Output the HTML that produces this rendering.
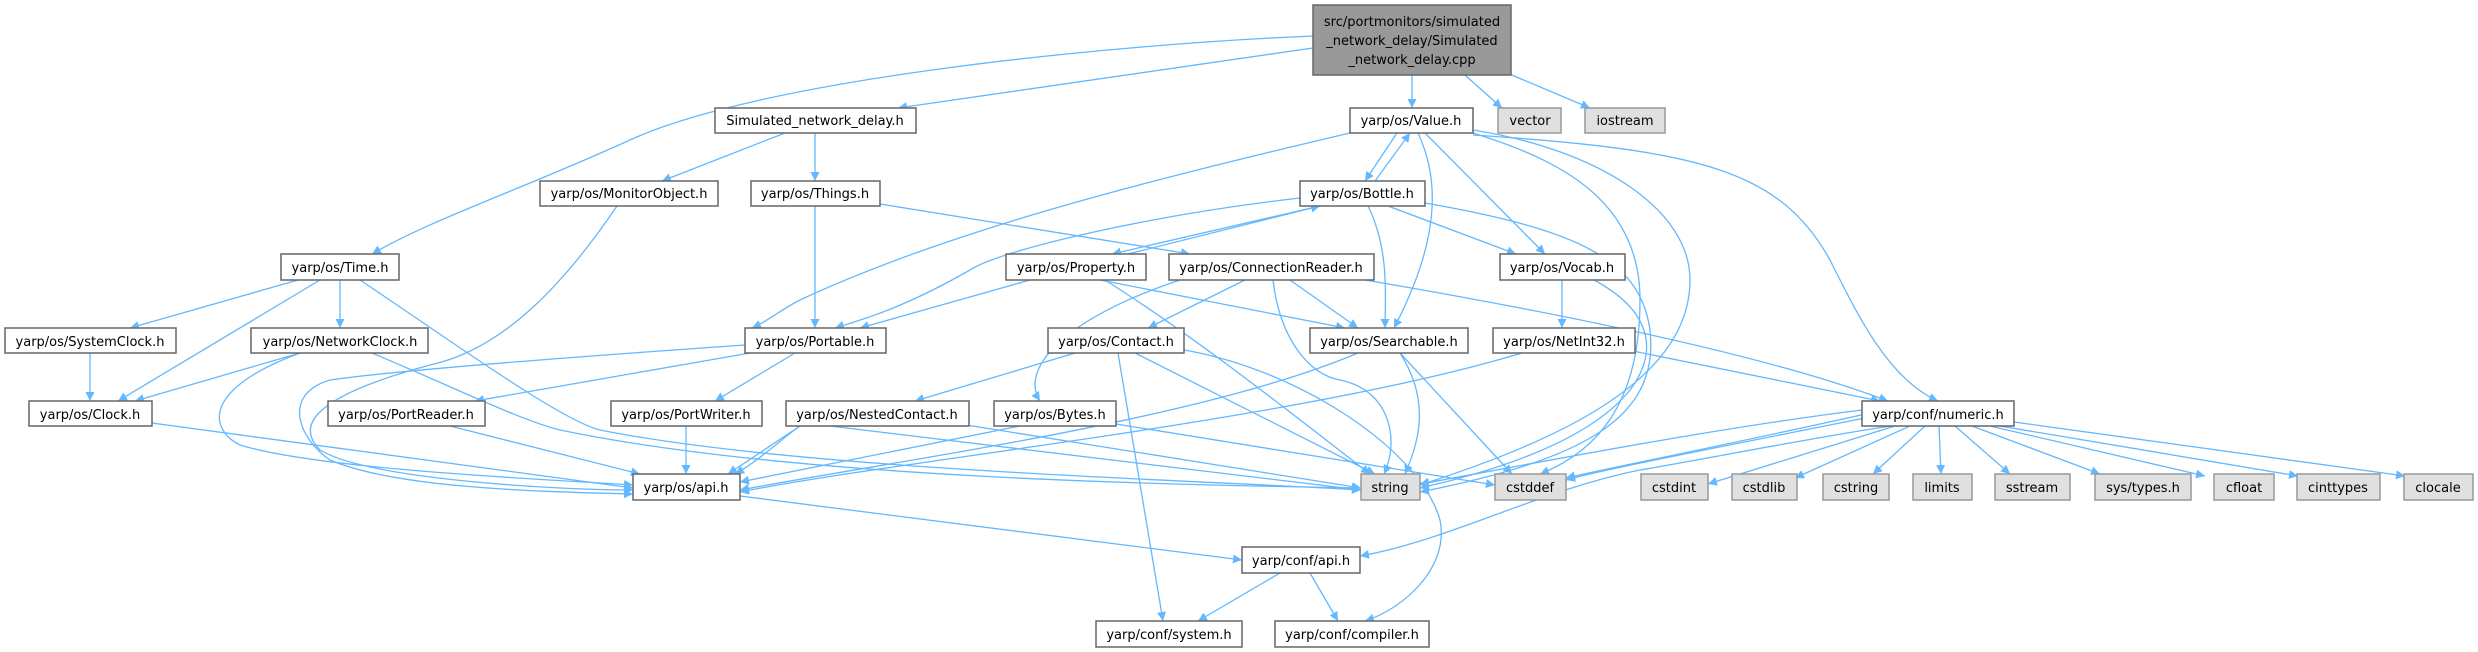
<!DOCTYPE html>
<html><head><meta charset="utf-8"><style>
html,body{margin:0;padding:0;background:#fff;}
svg{display:block;}
text{font-family:"DejaVu Sans","Liberation Sans",sans-serif;font-size:13px;fill:#000;}
.e{fill:none;stroke:#63b8ff;stroke-width:1.3;marker-end:url(#a);}
.n{fill:#fff;stroke:#666;stroke-width:1.5;}
.g{fill:#e0e0e0;stroke:#999;stroke-width:1.5;}
</style></head><body>
<svg width="2478" height="652" viewBox="0 0 2478 652" xmlns="http://www.w3.org/2000/svg">
<defs><marker id="a" viewBox="0 0 10 10" refX="10" refY="5" markerWidth="9" markerHeight="9" markerUnits="userSpaceOnUse" orient="auto"><path d="M0,0 L10,5 L0,10 z" fill="#63b8ff"/></marker></defs>
<g>
<!-- root edges -->
<path class="e" d="M1313,36 C1100,45 760,80 630,140 C520,190 430,220 372,254"/>
<path class="e" d="M1313,48 L898,108"/>
<path class="e" d="M1412,60 L1412,108"/>
<path class="e" d="M1448,60 L1502,108"/>
<path class="e" d="M1476,60 L1590,108"/>
<!-- Sim.h -->
<path class="e" d="M785,133 L662,181"/>
<path class="e" d="M815,133 L815,181"/>
<path class="e" d="M617,206 C560,290 500,350 430,365 C300,400 300,430 320,450 C370,480 560,490 633,490"/>
<path class="e" d="M815,206 L815,328"/>
<path class="e" d="M880,204 L1190,254"/>
<!-- Time.h -->
<path class="e" d="M298,280 L130,328"/>
<path class="e" d="M320,280 L118,401"/>
<path class="e" d="M340,280 L340,328"/>
<path class="e" d="M360,280 C450,340 560,420 600,430 C800,470 1200,480 1361,490"/>
<!-- SystemClock, NetworkClock, Clock -->
<path class="e" d="M90,353 L90,401"/>
<path class="e" d="M300,353 L135,401"/>
<path class="e" d="M300,353 C200,390 210,430 240,445 C320,470 560,480 633,485"/>
<path class="e" d="M372,353 C460,390 520,420 560,430 C800,480 1200,485 1361,488"/>
<path class="e" d="M152,423 L633,488"/>
<!-- Portable -->
<path class="e" d="M745,345 C600,355 400,370 330,380 C280,395 300,440 330,460 C400,490 560,492 633,494"/>
<path class="e" d="M750,353 L475,401"/>
<path class="e" d="M795,353 L715,401"/>
<path class="e" d="M450,426 L640,474"/>
<path class="e" d="M686,426 L686,474"/>
<path class="e" d="M800,426 L728,474"/>
<path class="e" d="M830,426 L1361,490"/>
<!-- Value.h -->
<path class="e" d="M1350,133 C1150,180 950,230 800,300 C780,310 770,320 752,328"/>
<path class="e" d="M1397,133 L1365,181"/>
<path class="e" d="M1375,181 L1410,133"/>
<path class="e" d="M1418,133 C1440,180 1440,240 1394,328"/>
<path class="e" d="M1425,133 L1545,254"/>
<path class="e" d="M1473,130 C1600,150 1690,210 1690,280 C1690,380 1560,440 1420,485"/>
<path class="e" d="M1473,133 C1560,160 1640,200 1640,300 C1640,400 1600,450 1540,474"/>
<path class="e" d="M1473,135 C1700,150 1780,170 1830,260 C1860,320 1890,380 1938,401"/>
<!-- Bottle -->
<path class="e" d="M1300,198 C1150,215 1000,250 970,270 C900,310 860,320 835,328"/>
<path class="e" d="M1320,206 L1112,254"/>
<path class="e" d="M1128,254 L1320,206"/>
<path class="e" d="M1368,206 C1390,250 1385,300 1385,328"/>
<path class="e" d="M1388,206 L1516,254"/>
<path class="e" d="M1425,203 C1580,230 1640,260 1650,330 C1660,420 1580,460 1420,492"/>
<!-- Property -->
<path class="e" d="M1030,280 L860,328"/>
<path class="e" d="M1100,280 L1345,328"/>
<path class="e" d="M1105,280 C1200,340 1300,420 1370,474"/>
<!-- ConnectionReader -->
<path class="e" d="M1180,280 C1060,320 1020,370 1040,401"/>
<path class="e" d="M1245,280 L1148,328"/>
<path class="e" d="M1290,280 L1358,328"/>
<path class="e" d="M1273,280 C1280,340 1310,375 1340,380 C1390,390 1400,440 1384,474"/>
<path class="e" d="M1365,280 C1600,320 1780,360 1888,401"/>
<!-- Contact -->
<path class="e" d="M1075,353 L915,401"/>
<path class="e" d="M1135,353 L1375,474"/>
<path class="e" d="M1118,353 L1163,621"/>
<path class="e" d="M1184,350 C1300,370 1420,450 1440,520 C1450,570 1400,610 1365,621"/>
<!-- Searchable -->
<path class="e" d="M1358,353 C1200,420 900,460 740,490"/>
<path class="e" d="M1400,353 C1430,400 1420,440 1405,474"/>
<path class="e" d="M1400,353 L1512,474"/>
<!-- Vocab / NetInt32 -->
<path class="e" d="M1562,280 L1562,328"/>
<path class="e" d="M1594,280 C1650,310 1660,350 1630,390 C1590,440 1500,470 1420,488"/>
<path class="e" d="M1522,353 C1300,420 900,460 740,492"/>
<path class="e" d="M1628,350 L1880,401"/>
<!-- NestedContact, Bytes -->
<path class="e" d="M800,426 C780,440 760,460 735,474"/>
<path class="e" d="M960,424 L1361,488"/>
<path class="e" d="M1020,426 L740,482"/>
<path class="e" d="M1116,424 L1495,485"/>
<!-- api -->
<path class="e" d="M740,496 L1242,560"/>
<path class="e" d="M1280,573 L1198,621"/>
<path class="e" d="M1310,573 L1338,621"/>
<!-- numeric -->
<path class="e" d="M1862,410 C1700,430 1500,470 1420,484"/>
<path class="e" d="M1870,413 C1750,440 1600,470 1566,478"/>
<path class="e" d="M1880,415 C1730,445 1600,470 1566,480"/>
<path class="e" d="M1890,426 C1800,440 1700,460 1640,470 C1540,490 1450,540 1360,556"/>
<path class="e" d="M1895,426 L1708,484"/>
<path class="e" d="M1910,426 L1795,478"/>
<path class="e" d="M1925,426 L1873,474"/>
<path class="e" d="M1939,426 L1941,474"/>
<path class="e" d="M1955,426 L2010,474"/>
<path class="e" d="M1972,426 L2100,474"/>
<path class="e" d="M1990,426 L2205,476"/>
<path class="e" d="M2000,426 L2298,476"/>
<path class="e" d="M2014,422 L2405,476"/>
</g>
<g>
<rect x="1313" y="5" width="198" height="70" fill="#999" stroke="#666" stroke-width="1.5"/>
<text x="1412" y="26" text-anchor="middle">src/portmonitors/simulated</text>
<text x="1412" y="45" text-anchor="middle">_network_delay/Simulated</text>
<text x="1412" y="64" text-anchor="middle">_network_delay.cpp</text>

<rect class="n" x="715" y="108" width="201" height="25"/><text x="815" y="125" text-anchor="middle">Simulated_network_delay.h</text>
<rect class="n" x="1350" y="108" width="123" height="25"/><text x="1411" y="125" text-anchor="middle">yarp/os/Value.h</text>
<rect class="g" x="1498" y="108" width="63" height="25"/><text x="1530" y="125" text-anchor="middle">vector</text>
<rect class="g" x="1585" y="108" width="80" height="25"/><text x="1625" y="125" text-anchor="middle">iostream</text>

<rect class="n" x="540" y="181" width="178" height="25"/><text x="629" y="198" text-anchor="middle">yarp/os/MonitorObject.h</text>
<rect class="n" x="751" y="181" width="129" height="25"/><text x="815" y="198" text-anchor="middle">yarp/os/Things.h</text>
<rect class="n" x="1300" y="181" width="125" height="25"/><text x="1362" y="198" text-anchor="middle">yarp/os/Bottle.h</text>

<rect class="n" x="281" y="254" width="118" height="26"/><text x="340" y="272" text-anchor="middle">yarp/os/Time.h</text>
<rect class="n" x="1006" y="254" width="140" height="26"/><text x="1076" y="272" text-anchor="middle">yarp/os/Property.h</text>
<rect class="n" x="1169" y="254" width="205" height="26"/><text x="1271" y="272" text-anchor="middle">yarp/os/ConnectionReader.h</text>
<rect class="n" x="1500" y="254" width="125" height="26"/><text x="1562" y="272" text-anchor="middle">yarp/os/Vocab.h</text>

<rect class="n" x="5" y="328" width="171" height="25"/><text x="90" y="346" text-anchor="middle">yarp/os/SystemClock.h</text>
<rect class="n" x="251" y="328" width="177" height="25"/><text x="340" y="346" text-anchor="middle">yarp/os/NetworkClock.h</text>
<rect class="n" x="745" y="328" width="141" height="25"/><text x="815" y="346" text-anchor="middle">yarp/os/Portable.h</text>
<rect class="n" x="1048" y="328" width="136" height="25"/><text x="1116" y="346" text-anchor="middle">yarp/os/Contact.h</text>
<rect class="n" x="1310" y="328" width="158" height="25"/><text x="1389" y="346" text-anchor="middle">yarp/os/Searchable.h</text>
<rect class="n" x="1493" y="328" width="142" height="25"/><text x="1564" y="346" text-anchor="middle">yarp/os/NetInt32.h</text>

<rect class="n" x="29" y="401" width="123" height="25"/><text x="90" y="419" text-anchor="middle">yarp/os/Clock.h</text>
<rect class="n" x="328" y="401" width="157" height="25"/><text x="406" y="419" text-anchor="middle">yarp/os/PortReader.h</text>
<rect class="n" x="611" y="401" width="151" height="25"/><text x="686" y="419" text-anchor="middle">yarp/os/PortWriter.h</text>
<rect class="n" x="786" y="401" width="183" height="25"/><text x="877" y="419" text-anchor="middle">yarp/os/NestedContact.h</text>
<rect class="n" x="994" y="401" width="122" height="25"/><text x="1055" y="419" text-anchor="middle">yarp/os/Bytes.h</text>
<rect class="n" x="1862" y="401" width="152" height="25"/><text x="1938" y="419" text-anchor="middle">yarp/conf/numeric.h</text>

<rect class="n" x="633" y="474" width="107" height="26"/><text x="686" y="492" text-anchor="middle">yarp/os/api.h</text>
<rect class="g" x="1361" y="474" width="59" height="26"/><text x="1390" y="492" text-anchor="middle">string</text>
<rect class="g" x="1495" y="474" width="71" height="26"/><text x="1530" y="492" text-anchor="middle">cstddef</text>
<rect class="g" x="1641" y="474" width="67" height="26"/><text x="1674" y="492" text-anchor="middle">cstdint</text>
<rect class="g" x="1732" y="474" width="65" height="26"/><text x="1764" y="492" text-anchor="middle">cstdlib</text>
<rect class="g" x="1823" y="474" width="66" height="26"/><text x="1856" y="492" text-anchor="middle">cstring</text>
<rect class="g" x="1913" y="474" width="59" height="26"/><text x="1942" y="492" text-anchor="middle">limits</text>
<rect class="g" x="1995" y="474" width="75" height="26"/><text x="2032" y="492" text-anchor="middle">sstream</text>
<rect class="g" x="2095" y="474" width="96" height="26"/><text x="2143" y="492" text-anchor="middle">sys/types.h</text>
<rect class="g" x="2214" y="474" width="60" height="26"/><text x="2244" y="492" text-anchor="middle">cfloat</text>
<rect class="g" x="2297" y="474" width="83" height="26"/><text x="2338" y="492" text-anchor="middle">cinttypes</text>
<rect class="g" x="2404" y="474" width="69" height="26"/><text x="2438" y="492" text-anchor="middle">clocale</text>

<rect class="n" x="1242" y="547" width="118" height="26"/><text x="1301" y="565" text-anchor="middle">yarp/conf/api.h</text>
<rect class="n" x="1096" y="621" width="146" height="26"/><text x="1169" y="639" text-anchor="middle">yarp/conf/system.h</text>
<rect class="n" x="1275" y="621" width="154" height="26"/><text x="1352" y="639" text-anchor="middle">yarp/conf/compiler.h</text>
</g>
</svg>
</body></html>
